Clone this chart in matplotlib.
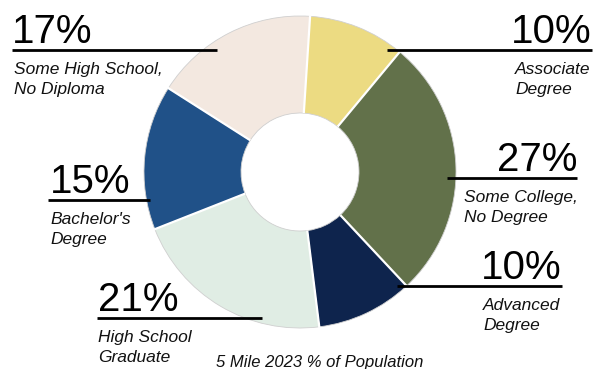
import numpy as np
import matplotlib.pyplot as plt

plt.rcParams['font.family'] = ['Liberation Sans', 'DejaVu Sans']

categories = ['Associate\nDegree', 'Some College,\nNo Degree', 'Advanced\nDegree',
              'High School\nGraduate', "Bachelor's\nDegree", 'Some High School,\nNo Diploma']
shares = [10, 27, 10, 21, 15, 17]
colors = ['#ECDB82', '#62714A', '#0E244D', '#E0EDE4', '#205188', '#F3E8E0']
title = '5 Mile 2023 % of Population'

W, H = 603, 369
cx, cy, r_out, r_in = 300, H - 172, 156, 59

# label layout: (line x0, line x1, line y, pct anchor x, pct ha, text x)
layout = [
    (387, 592, 50, 592, 'right', 515),
    (447, 577, 178, 577, 'right', 464),
    (397, 562, 286, 562, 'right', 483),
    (97, 262, 318, 98, 'left', 98),
    (48, 150, 200, 50, 'left', 50),
    (12, 217, 50, 12, 'left', 14),
]

fig = plt.figure(figsize=(W / 100, H / 100), dpi=100)
ax = fig.add_axes([0, 0, 1, 1])

wedges, _ = ax.pie(shares, colors=colors, startangle=86.3, counterclock=False,
                   center=(cx, cy), radius=r_out,
                   wedgeprops=dict(width=r_out - r_in, edgecolor='#cfcfcf', linewidth=0.6))

# white separators between slices
for w in wedges:
    a = np.deg2rad(w.theta1)
    ax.plot([cx + r_in * np.cos(a), cx + (r_out + 1) * np.cos(a)],
            [cy + r_in * np.sin(a), cy + (r_out + 1) * np.sin(a)],
            color='white', lw=1.6, solid_capstyle='butt', zorder=3)

for val, cat, (x0, x1, ly, px, ha, tx) in zip(shares, categories, layout):
    y = H - ly
    ax.plot([x0, x1], [y, y], color='black', lw=2.0, solid_capstyle='butt', zorder=4)
    ax.text(px, y + 7, f'{val}%', fontsize=29, ha=ha, va='baseline', color='black')
    ax.text(tx, y - 12, cat, fontsize=12.5, style='italic', ha='left', va='top',
            linespacing=1.38, color='#111111')

ax.text(320, H - 362, title, fontsize=12, style='italic', ha='center', va='center',
        color='#111111')

ax.set_xlim(0, W)
ax.set_ylim(0, H)
ax.set_aspect('equal')
ax.axis('off')

fig.savefig('out.png', dpi=100)
